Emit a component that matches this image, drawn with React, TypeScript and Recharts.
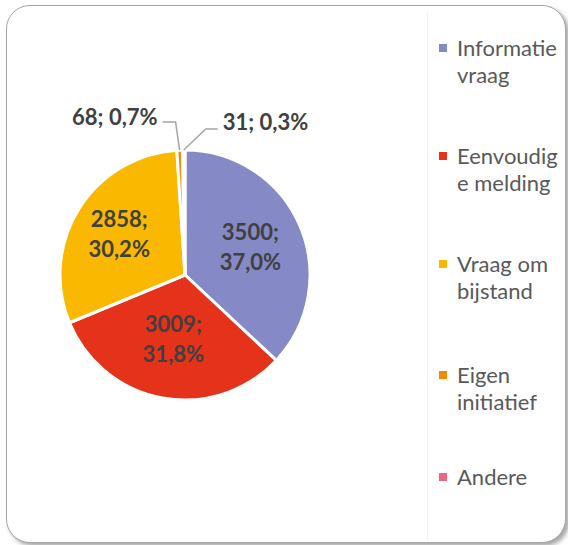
import { PieChart, Pie, Cell, Legend } from "recharts";

// meldingen per type
const categories = ["Informatie vraag", "Eenvoudige melding", "Vraag om bijstand", "Eigen initiatief", "Andere"];
const legendLines = [["Informatie", "vraag"], ["Eenvoudig", "e melding"], ["Vraag om", "bijstand"], ["Eigen", "initiatief"], ["Andere"]];
const counts = [3500, 3009, 2858, 68, 31];
const colors = ["#8589C5", "#E5331B", "#FBB800", "#F28B00", "#EC6A80"];

const data = categories.map((name, i) => ({ name, value: counts[i] }));

const RAD = Math.PI / 180;
const FONT = "Lato, 'Open Sans', sans-serif";
const labelRadius = [0.57, 0.52, 0.62];

function fmtPct(p: number) {
  return (p * 100).toFixed(1).replace(".", ",") + "%";
}

function renderLabel(props: any) {
  const { cx, cy, midAngle, outerRadius, percent, value, index } = props;
  const cos = Math.cos(-midAngle * RAD);
  const sin = Math.sin(-midAngle * RAD);

  if (index < 3) {
    const r = outerRadius * labelRadius[index];
    const x = cx + r * cos;
    const y = cy + r * sin;
    return (
      <text x={x} y={y} textAnchor="middle" fill="#404040" fontFamily={FONT} fontWeight={700} fontSize={22}>
        <tspan x={x} dy={-7}>{value};</tspan>
        <tspan x={x} dy={30}>{fmtPct(percent)}</tspan>
      </text>
    );
  }

  // small slices: label outside with an elbow leader line
  const ax = cx + outerRadius * cos;
  const ay = cy + outerRadius * sin;
  const left = index === 3;
  const ex = left ? ax - 4 : ax + 22;
  const ey = left ? ay - 28 : ay - 21;
  const hx = left ? ex - 13 : ex + 12;
  const tx = left ? hx - 5 : hx + 5;
  return (
    <g>
      <polyline points={`${ax},${ay} ${ex},${ey} ${hx},${ey}`} fill="none" stroke="#A6A6A6" strokeWidth={1.5} />
      <text x={tx} y={ey + (left ? 2.5 : 0.5)} textAnchor={left ? "end" : "start"} fill="#404040" fontFamily={FONT} fontWeight={700} fontSize={22}>
        {value}; {fmtPct(percent)}
      </text>
    </g>
  );
}

function LegendBox() {
  return (
    <div style={{ display: "flex", flexDirection: "column", gap: 54, fontFamily: FONT, fontSize: 22, color: "#595959", lineHeight: "27px" }}>
      {legendLines.map((lines, i) => (
        <div key={i} style={{ display: "flex", alignItems: "flex-start", marginTop: i === 4 ? -6 : i === 3 ? 3 : 0 }}>
          <span style={{ width: 8, height: 8, background: colors[i], marginTop: 10, marginRight: 10, flex: "none" }} />
          <div>
            {lines.map((l, j) => (
              <div key={j}>{l}</div>
            ))}
          </div>
        </div>
      ))}
    </div>
  );
}

export default function App() {
  return (
    <div style={{ position: "relative", width: 568, height: 545, background: "#fff" }}>
      <style>{"body{margin:0}"}</style>
      <div
        style={{
          position: "absolute",
          left: 6,
          top: 5,
          width: 558,
          height: 536,
          border: "1.5px solid #A6A6A6",
          borderRadius: 24,
          boxShadow: "3px 3px 4px rgba(0,0,0,0.35)",
          background: "#fff",
        }}
      />
      <div style={{ position: "absolute", left: 427, top: 12, width: 1, height: 528, background: "#F2F2F2" }} />
      <div style={{ position: "absolute", left: 0, top: 0 }}>
        <PieChart width={568} height={545} margin={{ top: 0, right: 0, bottom: 0, left: 0 }}>
          <Pie
            data={data}
            dataKey="value"
            nameKey="name"
            cx={185}
            cy={275}
            outerRadius={125}
            startAngle={90}
            endAngle={-270}
            stroke="#fff"
            strokeWidth={3}
            label={renderLabel}
            labelLine={false}
            isAnimationActive={false}
          >
            {data.map((d, i) => (
              <Cell key={d.name} fill={colors[i]} />
            ))}
          </Pie>
          <Legend
            layout="vertical"
            align="right"
            verticalAlign="top"
            wrapperStyle={{ left: 439, top: 34, width: 125 }}
            content={() => <LegendBox />}
          />
        </PieChart>
      </div>
    </div>
  );
}
